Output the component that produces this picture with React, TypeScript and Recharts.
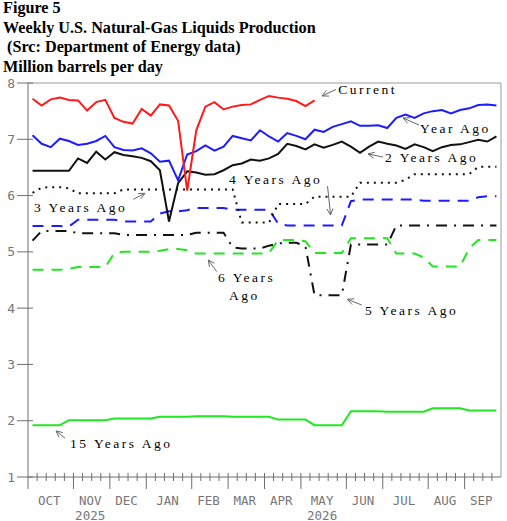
import { LineChart, Line, XAxis, YAxis, ReferenceLine } from "recharts";

// weekly production, million barrels per day, one value per week starting early October
const current = [
  7.72, 7.6, 7.71, 7.74, 7.7, 7.69, 7.51, 7.66, 7.7, 7.38,
  7.31, 7.28, 7.54, 7.42, 7.62, 7.6, 7.33, 6.09, 7.16, 7.58,
  7.66, 7.53, 7.58, 7.61, 7.62, 7.7, 7.77, 7.74, 7.72, 7.68,
  7.59, 7.69,
];
const yearAgo = [
  7.07, 6.92, 6.86, 7.01, 6.97, 6.9, 6.92, 6.97, 7.06, 6.86,
  6.81, 6.8, 6.84, 6.75, 6.6, 6.62, 6.27, 6.73, 6.79, 6.89,
  6.8, 6.87, 7.06, 7.02, 6.98, 7.16, 7.05, 6.96, 7.11, 7.06,
  7.0, 7.17, 7.13, 7.22, 7.27, 7.32, 7.24, 7.24, 7.25, 7.2,
  7.38, 7.44, 7.38, 7.46, 7.5, 7.52, 7.46, 7.52, 7.55, 7.61,
  7.62, 7.6,
];
const twoYearsAgo = [
  6.44, 6.44, 6.44, 6.44, 6.44, 6.66, 6.58, 6.78, 6.64, 6.77,
  6.72, 6.7, 6.67, 6.61, 6.45, 5.54, 6.22, 6.43, 6.41, 6.37,
  6.38, 6.45, 6.54, 6.57, 6.64, 6.62, 6.66, 6.74, 6.92, 6.88,
  6.82, 6.91, 6.85, 6.9, 6.96, 6.87, 6.76, 6.87, 6.96, 6.92,
  6.89, 6.83, 6.91, 6.86, 6.79, 6.86, 6.9, 6.91, 6.95, 6.99,
  6.96, 7.05,
];
const threeYearsAgo = [
  6.05, 6.14, 6.15, 6.15, 6.13, 6.04, 6.04, 6.04, 6.04, 6.04,
  6.11, 6.11, 6.11, 6.11, 6.11, 6.11, 6.11, 6.11, 6.11, 6.11,
  6.11, 6.11, 6.11, 5.52, 5.52, 5.52, 5.52, 5.85, 5.85, 5.85,
  5.85, 5.98, 5.98, 5.98, 5.98, 5.98, 6.23, 6.23, 6.23, 6.23,
  6.23, 6.28, 6.38, 6.38, 6.38, 6.38, 6.38, 6.38, 6.38, 6.51,
  6.51, 6.51,
];
const fourYearsAgo = [
  5.46, 5.46, 5.46, 5.46, 5.45, 5.57, 5.57, 5.57, 5.57, 5.57,
  5.54, 5.54, 5.54, 5.54, 5.68, 5.72, 5.72, 5.74, 5.78, 5.78,
  5.78, 5.78, 5.75, 5.75, 5.75, 5.75, 5.75, 5.5, 5.47, 5.47,
  5.47, 5.47, 5.47, 5.47, 5.47, 5.9, 5.93, 5.93, 5.93, 5.93,
  5.93, 5.93, 5.93, 5.91, 5.91, 5.91, 5.91, 5.91, 5.91, 5.97,
  5.99, 5.99,
];
const fiveYearsAgo = [
  5.2, 5.37, 5.37, 5.37, 5.37, 5.33, 5.33, 5.33, 5.33, 5.33,
  5.3, 5.3, 5.3, 5.3, 5.3, 5.3, 5.3, 5.3, 5.34, 5.34,
  5.34, 5.34, 5.08, 5.06, 5.06, 5.06, 5.11, 5.15, 5.16, 5.16,
  5.1, 4.23, 4.23, 4.23, 4.23, 5.13, 5.13, 5.13, 5.13, 5.13,
  5.47, 5.47, 5.47, 5.47, 5.47, 5.47, 5.47, 5.47, 5.47, 5.47,
  5.47, 5.47,
];
const sixYearsAgo = [
  4.68, 4.68, 4.68, 4.68, 4.7, 4.73, 4.73, 4.73, 4.73, 4.98,
  5.0, 5.0, 5.0, 5.0, 5.02, 5.05, 5.05, 5.03, 4.97, 4.97,
  4.97, 4.97, 4.97, 4.97, 4.97, 4.97, 4.98, 5.21, 5.21, 5.21,
  5.19, 4.98, 4.98, 4.98, 4.98, 5.24, 5.24, 5.24, 5.24, 5.24,
  4.97, 4.97, 4.97, 4.9, 4.74, 4.74, 4.74, 4.74, 5.06, 5.21,
  5.21, 5.21,
];
const fifteenYearsAgo = [
  1.92, 1.92, 1.92, 1.92, 2.01, 2.01, 2.01, 2.01, 2.01, 2.04,
  2.04, 2.04, 2.04, 2.04, 2.07, 2.07, 2.07, 2.07, 2.08, 2.08,
  2.08, 2.08, 2.07, 2.07, 2.07, 2.07, 2.07, 2.02, 2.02, 2.02,
  2.02, 1.92, 1.92, 1.92, 1.92, 2.17, 2.17, 2.17, 2.17, 2.16,
  2.16, 2.16, 2.16, 2.16, 2.22, 2.22, 2.22, 2.22, 2.18, 2.18,
  2.18, 2.18,
];

const months = ["OCT", "NOV", "DEC", "JAN", "FEB", "MAR", "APR", "MAY", "JUN", "JUL", "AUG", "SEP"];
const weeksPerMonth = [5, 4, 4, 5, 4, 4, 4, 5, 4, 5, 4, 4];
const yearUnder: Record<string, string> = { NOV: "2025", MAY: "2026" };
const yTicks = [1, 2, 3, 4, 5, 6, 7, 8];

const NWEEKS = weeksPerMonth.reduce((a, b) => a + b, 0);
const firstWeek: number[] = [];
weeksPerMonth.forEach((n, i) => firstWeek.push(i === 0 ? 0 : firstWeek[i - 1] + weeksPerMonth[i - 1]));
const monthEdges = firstWeek.map((w) => w - 0.5);
const weekEdges = Array.from({ length: NWEEKS }, (_, i) => i - 0.5);

const rows = Array.from({ length: NWEEKS }, (_, w) => ({
  w,
  current: current[w] ?? null,
  yearAgo: yearAgo[w],
  twoYearsAgo: twoYearsAgo[w],
  threeYearsAgo: threeYearsAgo[w],
  fourYearsAgo: fourYearsAgo[w],
  fiveYearsAgo: fiveYearsAgo[w],
  sixYearsAgo: sixYearsAgo[w],
  fifteenYearsAgo: fifteenYearsAgo[w],
}));

const W = 507;
const H = 521;
const X_AXIS_H = 44;
const MARGIN = { top: 83, right: 6, bottom: 0, left: 0 };
const Y_AXIS_W = 28;
const PLOT = {
  left: MARGIN.left + Y_AXIS_W,
  right: W - MARGIN.right,
  top: MARGIN.top,
  bottom: H - MARGIN.bottom - X_AXIS_H,
};
const WEEK_PX = (PLOT.right - PLOT.left) / NWEEKS;
const Y_MIN = 1;
const Y_MAX = 8;

// same mapping the chart uses, for placing the notes
const px = (w: number) => PLOT.left + (w + 0.5) * WEEK_PX;
const py = (v: number) => PLOT.top + ((Y_MAX - v) / (Y_MAX - Y_MIN)) * (PLOT.bottom - PLOT.top);

const AXIS = "#6e6e6e";
const FRAME = "#9a9a9a";
const TICK_TEXT = "#767676";
const TICK_FONT = "'DejaVu Sans Mono', monospace";
const NOTE_FONT = "'Liberation Serif', 'Times New Roman', serif";

const RED = "#ff1a1a";
const BLUE = "#1c1cff";
const BLACK = "#111111";
const GREEN = "#22e622";

// weekly cross ticks; a month edge gets a long tick plus the month name centred on its weeks
function WeekTick({ x, y, payload }: any) {
  const m = monthEdges.indexOf(payload.value);
  if (m < 0) {
    return <line x1={x} x2={x} y1={y - 4} y2={y + 4} stroke={AXIS} strokeWidth={1} />;
  }
  const name = months[m];
  const cx = x + (weeksPerMonth[m] * WEEK_PX) / 2 - 1.5;
  return (
    <g>
      <line x1={x} x2={x} y1={m === 0 ? y : y - 4} y2={y + 12} stroke={AXIS} strokeWidth={1} />
      <g fill={TICK_TEXT} fontFamily={TICK_FONT} fontSize={12.5}>
        <text x={cx} y={y + 27.5} textAnchor="middle">
          {name}
        </text>
        {yearUnder[name] && (
          <text x={cx} y={y + 42.5} textAnchor="middle">
            {yearUnder[name]}
          </text>
        )}
      </g>
    </g>
  );
}

function ValueTick({ x, y, payload }: any) {
  return (
    <g>
      <line x1={x - 11} x2={x + 5} y1={y} y2={y} stroke={AXIS} strokeWidth={1} />
      <text
        x={x - 13}
        y={y + 4.5}
        textAnchor="end"
        fill={TICK_TEXT}
        fontFamily={TICK_FONT}
        fontSize={13}
      >
        {payload.value}
      </text>
    </g>
  );
}

type Note = {
  text: string[];
  at: [number, number];
  tail: [number, number];
  head: [number, number];
};

// label positions in (week, value) units
const notes: Note[] = [
  { text: ["Current"], at: [33.6, 7.81], tail: [33.36, 7.885], head: [31.82, 7.77] },
  { text: ["Year Ago"], at: [42.6, 7.12], tail: [42.49, 7.254], head: [40.73, 7.378] },
  { text: ["2 Years Ago"], at: [38.75, 6.588], tail: [38.53, 6.685], head: [36.88, 6.739] },
  { text: ["4 Years Ago"], at: [21.6, 6.197], tail: [32.43, 6.17], head: [32.76, 5.655] },
  { text: ["3 Years Ago"], at: [0.16, 5.717], tail: [11.08, 5.934], head: [12.36, 6.04] },
  { text: ["6 Years", "  Ago"], at: [20.39, 4.456], tail: [20.25, 4.648], head: [19.32, 4.856] },
  { text: ["5 Years Ago"], at: [36.55, 3.87], tail: [36.19, 4.056], head: [34.6, 4.157] },
  { text: ["15 Years Ago"], at: [4.12, 1.507], tail: [3.57, 1.688], head: [2.58, 1.818] },
];

function Arrow({ tail, head }: { tail: [number, number]; head: [number, number] }) {
  const x1 = px(tail[0]);
  const y1 = py(tail[1]);
  const x2 = px(head[0]);
  const y2 = py(head[1]);
  const ang = Math.atan2(y1 - y2, x1 - x2);
  const len = 7;
  const spread = 0.45;
  const a = [x2 + len * Math.cos(ang + spread), y2 + len * Math.sin(ang + spread)];
  const b = [x2 + len * Math.cos(ang - spread), y2 + len * Math.sin(ang - spread)];
  return (
    <g stroke="#666" strokeWidth={1} fill="none">
      <line x1={x1} y1={y1} x2={x2} y2={y2} />
      <polyline points={`${a[0]},${a[1]} ${x2},${y2} ${b[0]},${b[1]}`} />
    </g>
  );
}

function Notes() {
  return (
    <svg
      width={W}
      height={H}
      style={{ position: "absolute", left: 0, top: 0, pointerEvents: "none" }}
    >
      {notes.map((n) => (
        <g key={n.text.join(" ")}>
          <Arrow tail={n.tail} head={n.head} />
          {n.text.map((t, i) => (
            <text
              key={t}
              x={px(n.at[0])}
              y={py(n.at[1]) + i * 18}
              fontFamily={NOTE_FONT}
              fontSize={13.5}
              letterSpacing={2.5}
              fill="#000"
              style={{ whiteSpace: "pre" }}
            >
              {t}
            </text>
          ))}
        </g>
      ))}
    </svg>
  );
}

export default function App() {
  return (
    <div style={{ position: "absolute", left: 0, top: 0, width: W, height: H, background: "#fff" }}>
      <div
        style={{
          position: "absolute",
          left: 3,
          top: -1,
          fontFamily: "'Liberation Serif', 'Times New Roman', serif",
          fontWeight: "bold",
          fontSize: 16.2,
          lineHeight: "19.5px",
          color: "#000",
          whiteSpace: "pre",
        }}
      >
        {"Figure 5\nWeekly U.S. Natural-Gas Liquids Production\n (Src: Department of Energy data)\nMillion barrels per day"}
      </div>
      <div style={{ position: "absolute", left: 0, top: 0 }}>
        <LineChart width={W} height={H} data={rows} margin={MARGIN}>
          <XAxis
            dataKey="w"
            type="number"
            domain={[-0.5, NWEEKS - 0.5]}
            ticks={weekEdges}
            interval={0}
            height={X_AXIS_H}
            tickSize={0}
            tickMargin={0}
            tickLine={false}
            axisLine={{ stroke: AXIS }}
            tick={<WeekTick />}
          />
          <YAxis
            type="number"
            domain={[Y_MIN, Y_MAX]}
            ticks={yTicks}
            interval={0}
            width={Y_AXIS_W}
            tickSize={0}
            tickMargin={0}
            tickLine={false}
            axisLine={{ stroke: AXIS }}
            tick={<ValueTick />}
          />
          <ReferenceLine y={Y_MAX} stroke={FRAME} />
          <ReferenceLine x={NWEEKS - 0.5} stroke={FRAME} />

          <Line dataKey="fifteenYearsAgo" stroke={GREEN} strokeWidth={2} dot={false} activeDot={false} isAnimationActive={false} />
          <Line dataKey="sixYearsAgo" stroke={GREEN} strokeWidth={2} strokeDasharray="11 8" dot={false} activeDot={false} isAnimationActive={false} />
          <Line dataKey="fiveYearsAgo" stroke={BLACK} strokeWidth={2} strokeDasharray="11 7 2 7" dot={false} activeDot={false} isAnimationActive={false} />
          <Line dataKey="fourYearsAgo" stroke={BLUE} strokeWidth={2} strokeDasharray="11 8" dot={false} activeDot={false} isAnimationActive={false} />
          <Line dataKey="threeYearsAgo" stroke={BLACK} strokeWidth={2} strokeDasharray="2 5" dot={false} activeDot={false} isAnimationActive={false} />
          <Line dataKey="twoYearsAgo" stroke={BLACK} strokeWidth={2} dot={false} activeDot={false} isAnimationActive={false} />
          <Line dataKey="yearAgo" stroke={BLUE} strokeWidth={2} dot={false} activeDot={false} isAnimationActive={false} />
          <Line dataKey="current" stroke={RED} strokeWidth={2} dot={false} activeDot={false} isAnimationActive={false} />
        </LineChart>
      </div>
      <Notes />
    </div>
  );
}
